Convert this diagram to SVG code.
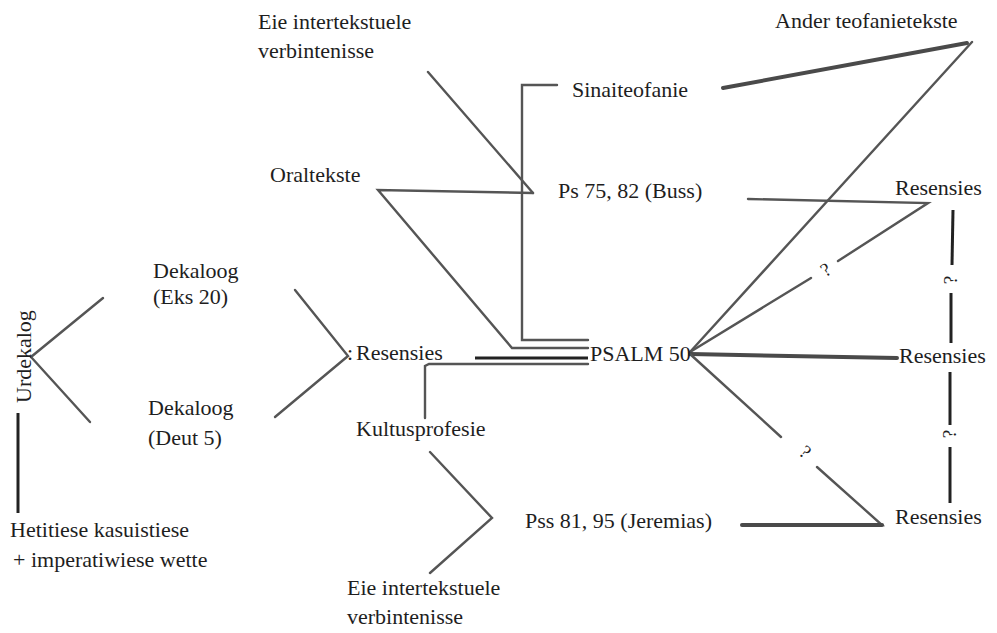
<svg xmlns="http://www.w3.org/2000/svg" width="997" height="633" viewBox="0 0 997 633" font-family="'Liberation Serif', 'Times New Roman', Tinos, 'DejaVu Serif', serif">
<style>
text{font-family:'Liberation Serif','Times New Roman',Tinos,'DejaVu Serif',serif;font-size:22px;fill:#1e1e1e}
.q{font-size:19px;text-anchor:middle}
.ln{fill:none;stroke:#555;stroke-width:2.4;stroke-linejoin:miter;stroke-linecap:round}
.tk{fill:none;stroke:#4a4a4a;stroke-width:4;stroke-linecap:round}
.dk{fill:none;stroke:#222;stroke-width:3;stroke-linecap:butt}
</style>
<rect width="997" height="633" fill="#fff"/>
<g id="connectors">
<polyline class="ln" points="103,298 31,357 90,422"/>
<line class="dk" x1="18" y1="413" x2="18" y2="513"/>
<polyline class="ln" points="295,290 348,356 275,417"/>
<line class="ln" x1="428" y1="72" x2="533" y2="193"/>
<polyline class="ln" points="557,85 522,85 522,340 588,340"/>
<polyline class="ln" points="533,193 378,190 512,348 588,348"/>
<line class="dk" x1="475" y1="358" x2="588" y2="358" stroke-width="3.5"/>
<polyline class="ln" points="425,418 425,366 429,364 588,364"/>
<polyline class="ln" points="430,452 492,518 430,573"/>
<line class="tk" x1="723" y1="88" x2="967" y2="43"/>
<line class="ln" x1="972" y1="42" x2="690" y2="352"/>
<polyline class="ln" points="748,199 928,203 838,261"/>
<line class="ln" x1="811" y1="278" x2="690" y2="352"/>
<line class="tk" x1="690" y1="354" x2="897" y2="358"/>
<line class="ln" x1="690" y1="354" x2="781" y2="437"/>
<polyline class="ln" points="817,467 882,525 742,525"/>
<line class="tk" x1="882" y1="525" x2="742" y2="525" stroke-width="3.5"/>
<line class="dk" x1="953" y1="210" x2="952" y2="265"/>
<line class="dk" x1="951" y1="293" x2="951" y2="343"/>
<line class="dk" x1="950" y1="372" x2="950" y2="425"/>
<line class="dk" x1="950" y1="447" x2="950" y2="503"/>
<text class="q" transform="translate(826,270) rotate(-32)" dy="6">?</text>
<text class="q" transform="translate(951,280) rotate(-90)" dy="6">?</text>
<text class="q" transform="translate(950,434) rotate(-90)" dy="6">?</text>
<text class="q" transform="translate(805,452) rotate(40)" dy="6">?</text>
</g>
<g id="urdekalog"><text transform="translate(31,403) rotate(-90)">Urdekalog</text></g>
<g id="hetitiese"><text x="10" y="537">Hetitiese kasuistiese</text><text x="13" y="567">+ imperatiwiese wette</text></g>
<g id="dekaloog-eks"><text x="153" y="278">Dekaloog</text><text x="153" y="304">(Eks 20)</text></g>
<g id="dekaloog-deut"><text x="148" y="415">Dekaloog</text><text x="148" y="445">(Deut 5)</text></g>
<g id="resensies-left"><text x="347" y="360" font-size="13">:</text><text x="356" y="360">Resensies</text></g>
<g id="eie-top"><text x="258" y="29">Eie intertekstuele</text><text x="258" y="58">verbintenisse</text></g>
<g id="sinaiteofanie"><text x="572" y="97">Sinaiteofanie</text></g>
<g id="oraltekste"><text x="270" y="182">Oraltekste</text></g>
<g id="ps75"><text x="558" y="198">Ps 75, 82 (Buss)</text></g>
<g id="psalm50"><text x="590" y="361">PSALM 50</text></g>
<g id="kultusprofesie"><text x="356" y="436">Kultusprofesie</text></g>
<g id="pss81"><text x="525" y="528">Pss 81, 95 (Jeremias)</text></g>
<g id="eie-bottom"><text x="347" y="595">Eie intertekstuele</text><text x="347" y="624">verbintenisse</text></g>
<g id="ander"><text x="775" y="28">Ander teofanietekste</text></g>
<g id="resensies-top"><text x="895" y="195">Resensies</text></g>
<g id="resensies-mid"><text x="899" y="363">Resensies</text></g>
<g id="resensies-bottom"><text x="895" y="524">Resensies</text></g>
</svg>
